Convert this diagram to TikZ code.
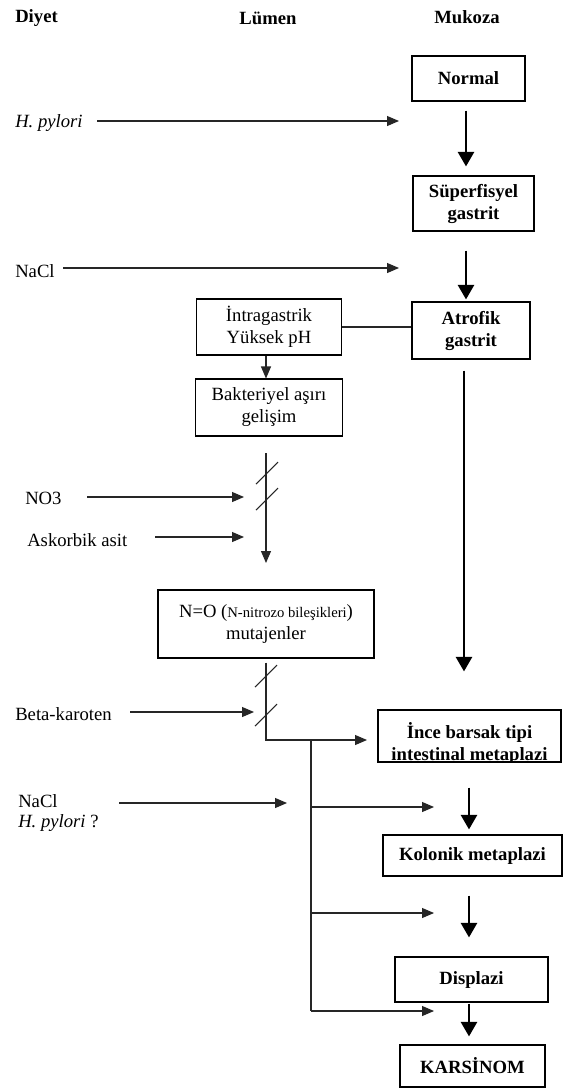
\documentclass[tikz,border=0pt]{standalone}
\usepackage{fontspec}
\setmainfont{Liberation Serif}
\usetikzlibrary{arrows.meta,calc}
\begin{document}
\begin{tikzpicture}[x=0.75pt,y=-0.75pt,
  font=\fontsize{14}{16.5}\selectfont,
  box/.style={draw,line width=0.8pt,align=center,inner sep=1pt},
  sz/.style 2 args={minimum width=#1*0.75pt,minimum height=#2*0.75pt},
  bx/.style={font=\fontsize{14}{16.5}\selectfont\bfseries},
  hdr/.style={font=\fontsize{14}{16.5}\selectfont\bfseries,inner sep=0pt},
  lbl/.style={inner sep=0pt,anchor=west},
  thinline/.style={line width=0.8pt,black!85},
  thinarrow/.style={line width=0.8pt,black!85,-{Triangle[length=9pt,width=7.5pt]}},
  bigarrow/.style={line width=2.2pt,-{Triangle[length=11pt,width=12pt]}},
]
\fill[white] (0,0) rectangle (566,1090);
\useasboundingbox (0,0) rectangle (566,1090);

% headers
\node[hdr,anchor=west] (hdiyet) at (15,18) {Diyet};
\node[hdr] (hlumen) at (268,18) {Lümen};
\node[hdr] (hmukoza) at (467,17) {Mukoza};

% mukoza column boxes
\node[box,bx,sz={113}{45}] (normal) at (468.5,78.5) {Normal};
\node[box,bx,sz={121}{55}] (sup) at (473.5,203.5) {Süperfisyel\\gastrit};
\node[box,bx,sz={118}{57}] (atro) at (471,330.5) {Atrofik\\gastrit};
\node[box,sz={183}{52}] (ince) at (469.5,736) {};
\begin{scope}
  \clip ([shift={(1,-1)}]ince.south west) rectangle ([shift={(-1,1)}]ince.north east);
  \node[bx,align=center,inner sep=0pt] (incetxt) at (469.5,743) {İnce barsak tipi\\intestinal metaplazi};
\end{scope}
\node[box,bx,sz={179}{41}] (kolo) at (472.5,855.5) {Kolonik metaplazi};
\node[box,bx,sz={153}{45}] (disp) at (471.5,979.5) {Displazi};
\node[box,bx,sz={145}{42}] (kars) at (472.5,1066) {KARSİNOM};

% lumen column boxes
\node[box,sz={145}{56}] (intra) at (269,327) {İntragastrik\\Yüksek pH};
\node[box,sz={147}{57}] (bakt) at (269,407.5) {Bakteriyel aşırı\\gelişim};
\node[box,sz={216}{68}] (nno) at (266,624) {N=O ({\fontsize{11}{12}\selectfont N-nitrozo bileşikleri})\\mutajenler};

% diet labels
\node[lbl] (hp) at (15,123) {\textit{H. pylori}};
\node[lbl] (nacl1) at (15,271) {NaCl};
\node[lbl] (no3) at (25,498) {NO3};
\node[lbl] (asko) at (27,540) {Askorbik asit};
\node[lbl] (beta) at (15,714) {Beta-karoten};
\node[inner sep=0pt,anchor=base west,align=left,font=\fontsize{14}{15}\selectfont] (nacl2) at (18,827) {NaCl\\\textit{H. pylori} ?};

% coordinates for free ends
\coordinate (hpA) at (97,121);   \coordinate (hpB) at (399,121);
\coordinate (naA) at (63,268);   \coordinate (naB) at (399,268);
\coordinate (noA) at (87,497);   \coordinate (noB) at (244,497);
\coordinate (asA) at (155,537);  \coordinate (asB) at (244,537);
\coordinate (beA) at (130,712);  \coordinate (beB) at (254,712);
\coordinate (n2A) at (119,803);  \coordinate (n2B) at (287,803);
\coordinate (colR) at (466,0);
\coordinate (colL) at (464,0);
\coordinate (colK) at (469,0);
\coordinate (v1a) at (266,453);  \coordinate (v1b) at (266,563);
\coordinate (s1) at (267,473);   \coordinate (s2) at (267,499);
\coordinate (s3) at (266,676);   \coordinate (s4) at (266,715);
\coordinate (j1) at (266,740);   \coordinate (inceIn) at (367,740);
\coordinate (v2a) at (311,740);  \coordinate (v2b) at (311,1011);
\coordinate (b1) at (311,807);   \coordinate (b1e) at (434,807);
\coordinate (b2) at (311,913);   \coordinate (b2e) at (434,913);
\coordinate (b3e) at (434,1011);

% diet arrows
\draw[thinarrow] (hpA) -- (hpB);
\draw[thinarrow] (naA) -- (naB);
\draw[thinarrow] (noA) -- (noB);
\draw[thinarrow] (asA) -- (asB);
\draw[thinarrow] (beA) -- (beB);
\draw[thinarrow] (n2A) -- (n2B);

% mukoza progression
\draw[bigarrow] ($(normal.south -| colR)+(0,9)$) -- ($(sup.north -| colR)+(0,-9)$);
\draw[bigarrow] ($(sup.south -| colR)+(0,19)$) -- ($(atro.north -| colR)+(0,-2)$);
\draw[bigarrow] ($(atro.south -| colL)+(0,11)$) -- ($(ince.north -| colL)+(0,-38)$);
\draw[bigarrow] ($(ince.south -| colK)+(0,25)$) -- ($(kolo.north -| colK)+(0,-5)$);
\draw[bigarrow] ($(kolo.south -| colK)+(0,19)$) -- ($(disp.north -| colK)+(0,-19)$);
\draw[bigarrow] ($(disp.south -| colK)+(0,1)$) -- ($(kars.north -| colK)+(0,-8)$);

% lumen connections
\draw[thinline] (intra.east) -- (intra.east -| atro.west);
\draw[thinarrow] (intra.south -| v1a) -- (bakt.north -| v1a);
\draw[thinarrow] (v1a) -- (v1b);
\draw[thinline] ($(s1)+(-11,11)$) -- ($(s1)+(11,-11)$);
\draw[thinline] ($(s2)+(-11,11)$) -- ($(s2)+(11,-11)$);
\draw[thinarrow] ($(nno.south -| j1)+(0,4)$) -- (j1) -- (inceIn);
\draw[thinline] ($(s3)+(-11,11)$) -- ($(s3)+(11,-11)$);
\draw[thinline] ($(s4)+(-11,11)$) -- ($(s4)+(11,-11)$);
\draw[thinline] (v2a) -- (v2b);
\draw[thinarrow] (b1) -- (b1e);
\draw[thinarrow] (b2) -- (b2e);
\draw[thinarrow] (v2b) -- (b3e);
\end{tikzpicture}
\end{document}
